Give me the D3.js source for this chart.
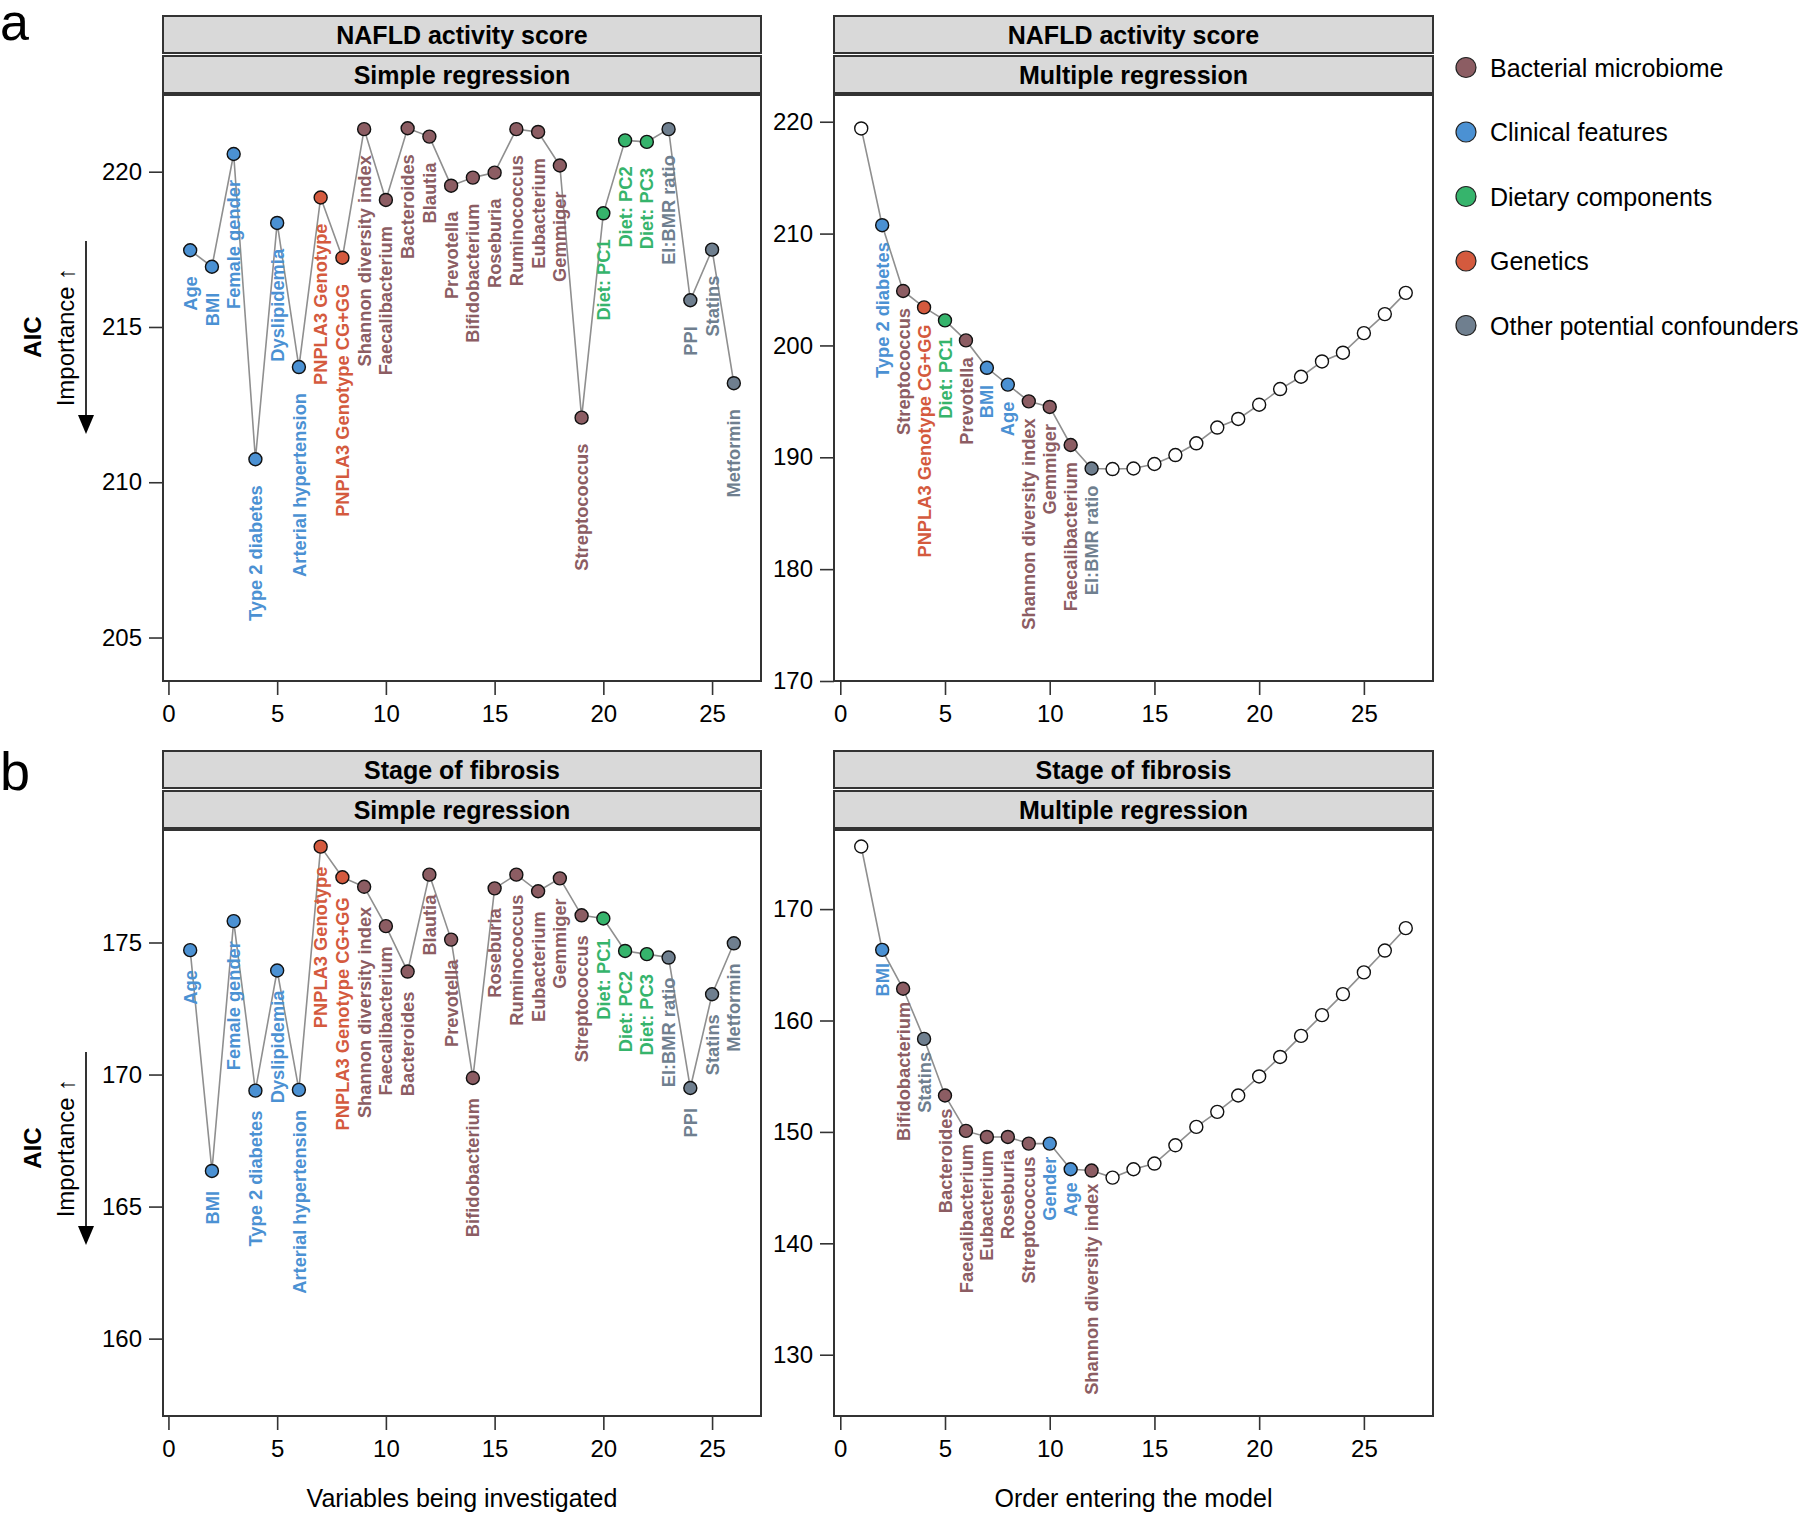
<!DOCTYPE html>
<html>
<head>
<meta charset="utf-8">
<script src="https://cdn.jsdelivr.net/npm/d3@7"></script>
<style>
  body { margin: 0; background: #fff; }
  text { font-family: "Liberation Sans", Arial, Helvetica, sans-serif; }
</style>
</head>
<body>
<div id="chart"></div>
<script>
// variable groups and their colours
var groupKeys = ["B", "C", "D", "G", "O"];
var groupNames = ["Bacterial microbiome", "Clinical features", "Dietary components", "Genetics", "Other potential confounders"];
var groupColors = ["#8c5d63", "#4b91d3", "#36b46c", "#d45a3e", "#6f7f8f"];

// simple regression: one variable at a time
var simpleVars = ["Age", "BMI", "Female gender", "Type 2 diabetes", "Dyslipidemia", "Arterial hypertension",
  "PNPLA3 Genotype", "PNPLA3 Genotype CG+GG", "Shannon diversity index", "Faecalibacterium", "Bacteroides",
  "Blautia", "Prevotella", "Bifidobacterium", "Roseburia", "Ruminococcus", "Eubacterium", "Gemmiger",
  "Streptococcus", "Diet: PC1", "Diet: PC2", "Diet: PC3", "EI:BMR ratio", "PPI", "Statins", "Metformin"];
var simpleGroups = ["C", "C", "C", "C", "C", "C", "G", "G", "B", "B", "B", "B", "B", "B", "B", "B", "B", "B",
  "B", "D", "D", "D", "O", "O", "O", "O"];
var nasSimpleAIC = [217.47, 216.94, 220.57, 210.74, 218.35, 213.71, 219.17, 217.23, 221.37, 219.09, 221.40,
  221.13, 219.55, 219.81, 219.97, 221.37, 221.28, 220.20, 212.08, 218.66, 221.01, 220.96, 221.37, 215.86,
  217.49, 213.19];
var fibSimpleAIC = [174.71, 166.35, 175.81, 169.39, 173.94, 169.42, 178.63, 177.47, 177.11, 175.62, 173.90,
  177.57, 175.11, 169.87, 177.05, 177.57, 176.94, 177.43, 176.03, 175.91, 174.68, 174.56, 174.43, 169.49,
  173.04, 174.97];

// multiple regression: order entering the model ("" = not labelled)
var nasMultiVars = ["", "Type 2 diabetes", "Streptococcus", "PNPLA3 Genotype CG+GG", "Diet: PC1", "Prevotella",
  "BMI", "Age", "Shannon diversity index", "Gemmiger", "Faecalibacterium", "EI:BMR ratio",
  "", "", "", "", "", "", "", "", "", "", "", "", "", "", ""];
var nasMultiGroups = ["", "C", "B", "G", "D", "B", "C", "C", "B", "B", "B", "O",
  "", "", "", "", "", "", "", "", "", "", "", "", "", "", ""];
var nasMultiAIC = [219.4, 210.75, 204.87, 203.40, 202.24, 200.45, 198.0, 196.5, 195.0, 194.5, 191.1, 189.0,
  188.95, 189.0, 189.4, 190.2, 191.25, 192.66, 193.43, 194.7, 196.1, 197.2, 198.57, 199.35, 201.1, 202.8, 204.7];

var fibMultiVars = ["", "BMI", "Bifidobacterium", "Statins", "Bacteroides", "Faecalibacterium", "Eubacterium",
  "Roseburia", "Streptococcus", "Gender", "Age", "Shannon diversity index",
  "", "", "", "", "", "", "", "", "", "", "", "", "", "", ""];
var fibMultiGroups = ["", "C", "B", "O", "B", "B", "B", "B", "B", "C", "C", "B",
  "", "", "", "", "", "", "", "", "", "", "", "", "", "", ""];
var fibMultiAIC = [175.62, 166.34, 162.85, 158.35, 153.27, 150.09, 149.55, 149.55, 148.95, 148.95, 146.65,
  146.53, 145.9, 146.65, 147.16, 148.8, 150.45, 151.8, 153.27, 154.98, 156.73, 158.62, 160.48, 162.37, 164.32,
  166.28, 168.29];

// tick labels
var xTicks = [0, 5, 10, 15, 20, 25];
var nasSimpleTicks = [205, 210, 215, 220];
var nasMultiTicks = [170, 180, 190, 200, 210, 220];
var fibSimpleTicks = [160, 165, 170, 175];
var fibMultiTicks = [130, 140, 150, 160, 170];

var outcomeTitles = ["NAFLD activity score", "Stage of fibrosis"];
var methodTitles = ["Simple regression", "Multiple regression"];
var xTitles = ["Variables being investigated", "Order entering the model"];

function colorOf(g) {
  var k = groupKeys.indexOf(g);
  return k < 0 ? "#fff" : groupColors[k];
}

var svg = d3.select("#chart").append("svg")
  .attr("width", 1800)
  .attr("height", 1516);
svg.append("rect").attr("width", 1800).attr("height", 1516).attr("fill", "#fff");

var cols = [{left: 163, right: 761}, {left: 834, right: 1433}];
var rows = [{stripTop: 16}, {stripTop: 751}];

var panels = [
  {row: 0, col: 0, outcome: 0, method: 0, vars: simpleVars, groups: simpleGroups, values: nasSimpleAIC,
    yDomain: [203.6, 222.47], yTicks: nasSimpleTicks, xDomain: [-0.25, 27.25], gap: 26},
  {row: 0, col: 1, outcome: 0, method: 1, vars: nasMultiVars, groups: nasMultiGroups, values: nasMultiAIC,
    yDomain: [170, 222.39], yTicks: nasMultiTicks, xDomain: [-0.3, 28.3], gap: 17},
  {row: 1, col: 0, outcome: 1, method: 0, vars: simpleVars, groups: simpleGroups, values: fibSimpleAIC,
    yDomain: [157.07, 179.26], yTicks: fibSimpleTicks, xDomain: [-0.25, 27.25], gap: 20},
  {row: 1, col: 1, outcome: 1, method: 1, vars: fibMultiVars, groups: fibMultiGroups, values: fibMultiAIC,
    yDomain: [124.5, 177.1], yTicks: fibMultiTicks, xDomain: [-0.3, 28.3], gap: 13}
];

panels.forEach(function(p) {
  var left = cols[p.col].left, right = cols[p.col].right;
  var stripTop = rows[p.row].stripTop;
  var top = stripTop + 79, bottom = top + 586;

  var x = d3.scaleLinear().domain(p.xDomain).range([left, right]);
  var y = d3.scaleLinear().domain(p.yDomain).range([bottom, top]);

  // two facet strips
  [outcomeTitles[p.outcome], methodTitles[p.method]].forEach(function(t, k) {
    var sy = stripTop + k * 40;
    svg.append("rect")
      .attr("x", left).attr("y", sy)
      .attr("width", right - left).attr("height", 37)
      .attr("fill", "#d9d9d9").attr("stroke", "#333").attr("stroke-width", 2);
    svg.append("text")
      .attr("x", (left + right) / 2).attr("y", sy + 18.5)
      .attr("dy", "0.36em")
      .attr("text-anchor", "middle")
      .style("font-size", "25px").style("font-weight", "bold")
      .text(t);
  });

  svg.append("rect")
    .attr("x", left).attr("y", top)
    .attr("width", right - left).attr("height", bottom - top)
    .attr("fill", "none").attr("stroke", "#333").attr("stroke-width", 2);

  var ya = svg.append("g")
    .attr("transform", "translate(" + left + ",0)")
    .call(d3.axisLeft(y).tickValues(p.yTicks).tickSize(14).tickPadding(7));
  var xa = svg.append("g")
    .attr("transform", "translate(0," + bottom + ")")
    .call(d3.axisBottom(x).tickValues(xTicks).tickSize(14).tickPadding(10));
  [ya, xa].forEach(function(a) {
    a.select(".domain").remove();
    a.attr("font-size", 24).attr("font-family", null);
    a.selectAll("line").attr("stroke", "#333").attr("stroke-width", 1.6);
    a.selectAll("text").attr("fill", "#000");
  });

  var data = p.values.map(function(v, i) {
    return {i: i + 1, v: v, name: p.vars[i], g: p.groups[i]};
  });

  svg.append("path")
    .datum(data)
    .attr("d", d3.line().x(function(d) { return x(d.i); }).y(function(d) { return y(d.v); }))
    .attr("fill", "none").attr("stroke", "#8f8f8f").attr("stroke-width", 1.6);

  svg.selectAll(null)
    .data(data.filter(function(d) { return d.name; }))
    .enter().append("text")
    .attr("transform", function(d) { return "translate(" + x(d.i) + "," + (y(d.v) + p.gap) + ") rotate(-90)"; })
    .attr("text-anchor", "end")
    .attr("dy", "0.36em")
    .style("font-size", "18.3px").style("font-weight", "bold")
    .attr("fill", function(d) { return colorOf(d.g); })
    .text(function(d) { return d.name; });

  svg.selectAll(null)
    .data(data)
    .enter().append("circle")
    .attr("cx", function(d) { return x(d.i); })
    .attr("cy", function(d) { return y(d.v); })
    .attr("r", 6.5)
    .attr("fill", function(d) { return colorOf(d.g); })
    .attr("stroke", "#111").attr("stroke-width", 1.4);

  if (p.col == 0) {
    // AIC axis title with the importance arrow
    var cy = p.row == 0 ? 337 : 1148;
    svg.append("text")
      .attr("transform", "translate(32," + cy + ") rotate(-90)")
      .attr("dy", "0.36em").attr("text-anchor", "middle")
      .style("font-size", "24px").style("font-weight", "bold")
      .text("AIC");
    svg.append("text")
      .attr("transform", "translate(65," + cy + ") rotate(-90)")
      .attr("dy", "0.36em").attr("text-anchor", "middle")
      .style("font-size", "24px")
      .text("Importance \u2191");
    svg.append("line")
      .attr("x1", 86).attr("x2", 86)
      .attr("y1", cy - 96).attr("y2", cy + 80)
      .attr("stroke", "#000").attr("stroke-width", 1.6);
    svg.append("path")
      .attr("d", "M78," + (cy + 78) + "L94," + (cy + 78) + "L86," + (cy + 97) + "Z")
      .attr("fill", "#000");
  }

  if (p.row == 1) {
    svg.append("text")
      .attr("x", (left + right) / 2).attr("y", 1507)
      .attr("text-anchor", "middle")
      .style("font-size", "25px")
      .text(xTitles[p.col]);
  }
});

// panel letters
svg.append("text").attr("x", 0).attr("y", 40).style("font-size", "52px").text("a");
svg.append("text").attr("x", 0).attr("y", 790).style("font-size", "54px").text("b");

// legend
groupNames.forEach(function(name, k) {
  var ly = 67.5 + k * 64.5;
  svg.append("circle")
    .attr("cx", 1466).attr("cy", ly).attr("r", 10)
    .attr("fill", groupColors[k]).attr("stroke", "#222").attr("stroke-width", 1.2);
  svg.append("text")
    .attr("x", 1490).attr("y", ly).attr("dy", "0.36em")
    .style("font-size", "25px")
    .text(name);
});
</script>
</body>
</html>
